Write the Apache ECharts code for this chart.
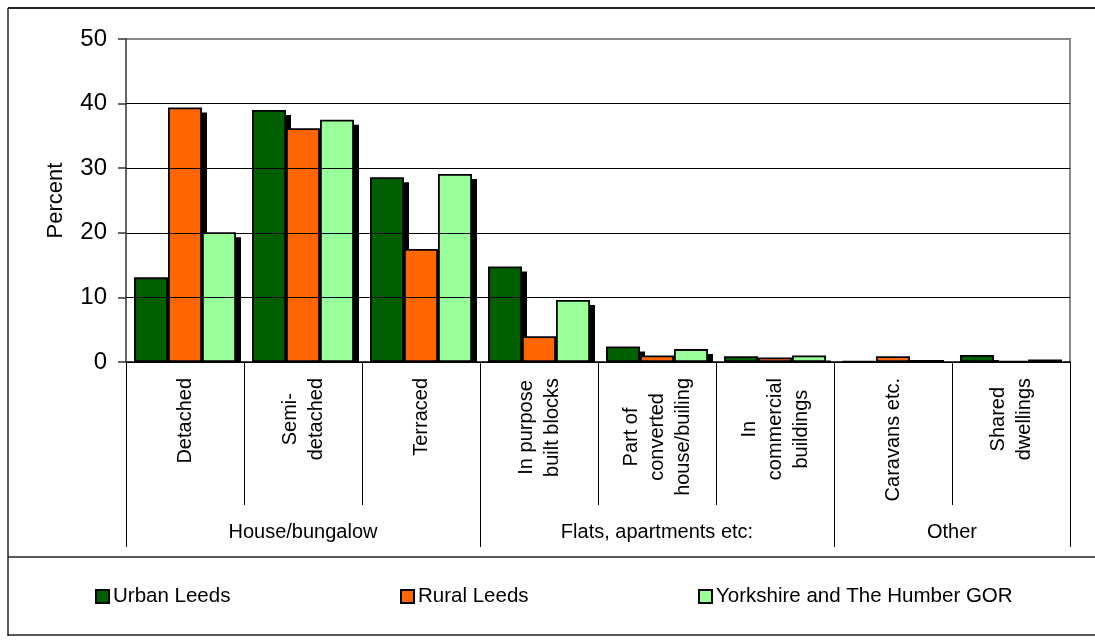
<!DOCTYPE html>
<html>
<head>
<meta charset="utf-8">
<script src="https://cdn.jsdelivr.net/npm/echarts@6/dist/echarts.min.js"></script>
<style>html,body{margin:0;padding:0;background:#fff}#c{width:1095px;height:640px}</style>
</head>
<body>
<div id="c"></div>
<script>
var categories = ['Detached', 'Semi-\ndetached', 'Terraced', 'In purpose\nbuilt blocks', 'Part of\nconverted\nhouse/builing', 'In\ncommercial\nbuildings', 'Caravans etc.', 'Shared\ndwellings'];
var urbanLeeds = [13.1, 39.0, 28.6, 14.8, 2.4, 0.9, 0.1, 1.1];
var ruralLeeds = [39.4, 36.2, 17.5, 4.0, 1.0, 0.7, 0.9, 0.1];
var yorkshire = [20.1, 37.5, 29.1, 9.6, 2.0, 1.0, 0.3, 0.4];
var seriesNames = ['Urban Leeds', 'Rural Leeds', 'Yorkshire and The Humber GOR'];
var groupNames = ['House/bungalow', 'Flats, apartments etc:', 'Other'];
var groupSpans = [3, 3, 2];
var yTicks = [0, 10, 20, 30, 40, 50];

var FONT = '"Liberation Sans", Arial, sans-serif';
var colors = ['#006000', '#FF6600', '#99FF99'];
var SH = 5; // shadow offset in px

var bounds = [0];
var centers = [];
groupSpans.forEach(function (s, i) {
  centers.push(bounds[i] + s / 2);
  bounds.push(bounds[i] + s);
});

var chart = echarts.init(document.getElementById('c'), null, {renderer: 'canvas'});

function makeSeries(name, data, color) {
  return {
    name: name,
    type: 'bar',
    data: data,
    xAxisIndex: 0,
    yAxisIndex: 0,
    barWidth: 34,
    barGap: '0%',
    z: 3,
    itemStyle: {color: color, borderColor: '#000', borderWidth: 1.8},
    emphasis: {disabled: true}
  };
}
function makeShadow(name, data) {
  return {
    name: name + ' shadow',
    type: 'bar',
    data: data,
    xAxisIndex: 2,
    yAxisIndex: 1,
    barWidth: 34,
    barGap: '0%',
    z: 1,
    itemStyle: {color: '#000', borderWidth: 0},
    emphasis: {disabled: true},
    silent: true
  };
}

function legendFor(name, left) {
  return {
    data: [name],
    left: left,
    top: 586,
    padding: 0,
    icon: 'rect',
    itemWidth: 13,
    itemHeight: 13,
    itemGap: 0,
    selectedMode: false,
    textStyle: {fontFamily: FONT, fontSize: 20.5, color: '#000', padding: [0, 0, 0, -1]},
    itemStyle: {borderColor: '#000', borderWidth: 2}
  };
}

var option = {
  animation: false,
  backgroundColor: '#fff',
  grid: [
    {left: 126, right: 25, top: 39, bottom: 278, show: false},
    {left: 126 + SH, right: 25 - SH, top: 39 + SH, bottom: 278 - SH, show: false}
  ],
  legend: [
    legendFor(seriesNames[0], 95),
    legendFor(seriesNames[1], 400),
    legendFor(seriesNames[2], 698)
  ],
  xAxis: [
    {
      type: 'category',
      gridIndex: 0,
      data: categories,
      z: 6,
      axisLine: {show: true, lineStyle: {color: '#000', width: 1.5}},
      axisTick: {show: true, alignWithLabel: false, interval: 0, length: 143, lineStyle: {color: '#000', width: 1}},
      axisLabel: {
        interval: 0,
        rotate: 90,
        margin: 16,
        color: '#000',
        fontFamily: FONT,
        fontSize: 20,
        lineHeight: 26,
        formatter: function (v) {
          return v.split('\n').map(function (l) { return '{c|' + l + '}'; }).join('\n');
        },
        rich: {c: {align: 'center', fontFamily: FONT, fontSize: 20, lineHeight: 26, color: '#000'}}
      },
      splitLine: {show: false}
    },
    {
      type: 'value',
      gridIndex: 0,
      min: 0,
      max: bounds[bounds.length - 1],
      position: 'bottom',
      offset: 143,
      z: 6,
      axisLine: {show: false},
      axisTick: {show: true, customValues: bounds, length: 42, lineStyle: {color: '#000', width: 1}},
      axisLabel: {
        customValues: centers,
        margin: 17,
        color: '#000',
        fontFamily: FONT,
        fontSize: 20,
        formatter: function (v) {
          var i = centers.indexOf(v);
          return i >= 0 ? groupNames[i] : '';
        }
      },
      splitLine: {show: false}
    },
    {
      type: 'category',
      gridIndex: 1,
      data: categories,
      show: false
    }
  ],
  yAxis: [
    {
      type: 'value',
      gridIndex: 0,
      min: yTicks[0],
      max: yTicks[yTicks.length - 1],
      interval: 10,
      z: 6,
      name: 'Percent',
      nameLocation: 'middle',
      nameGap: 59,
      nameTextStyle: {fontFamily: FONT, fontSize: 22, color: '#000'},
      axisLine: {show: true, lineStyle: {color: '#333', width: 1.5}},
      axisTick: {show: true, inside: false, length: 8, lineStyle: {color: '#333', width: 1.5}},
      axisLabel: {margin: 19, color: '#000', fontFamily: FONT, fontSize: 24},
      splitLine: {show: true, lineStyle: {color: ['#000', '#000', '#000', '#000', '#000', '#888'], width: 1}}
    },
    {
      type: 'value',
      gridIndex: 1,
      min: yTicks[0],
      max: yTicks[yTicks.length - 1],
      interval: 10,
      show: false,
      splitLine: {show: false}
    }
  ],
  graphic: [
    {type: 'rect', z: 4, silent: true, shape: {x: 124, y: 363, width: 960, height: 7}, style: {fill: '#fff'}},
    {type: 'line', z: 5, silent: true, shape: {x1: 1070, y1: 39, x2: 1070, y2: 362}, style: {stroke: '#888', lineWidth: 2}},
    {type: 'line', z: 5, silent: true, shape: {x1: 126, y1: 39, x2: 1071, y2: 39}, style: {stroke: '#888', lineWidth: 2}},
    {type: 'line', silent: true, shape: {x1: 8, y1: 8, x2: 1095, y2: 8}, style: {stroke: '#222', lineWidth: 2}},
    {type: 'line', silent: true, shape: {x1: 8, y1: 8, x2: 8, y2: 636}, style: {stroke: '#222', lineWidth: 1.5}},
    {type: 'line', silent: true, shape: {x1: 8, y1: 557, x2: 1095, y2: 557}, style: {stroke: '#222', lineWidth: 1.5}},
    {type: 'line', silent: true, shape: {x1: 8, y1: 635, x2: 1095, y2: 635}, style: {stroke: '#222', lineWidth: 1.5}}
  ],
  series: [
    makeShadow(seriesNames[0], urbanLeeds),
    makeShadow(seriesNames[1], ruralLeeds),
    makeShadow(seriesNames[2], yorkshire),
    makeSeries(seriesNames[0], urbanLeeds, colors[0]),
    makeSeries(seriesNames[1], ruralLeeds, colors[1]),
    makeSeries(seriesNames[2], yorkshire, colors[2])
  ]
};
chart.setOption(option);
</script>
</body>
</html>
